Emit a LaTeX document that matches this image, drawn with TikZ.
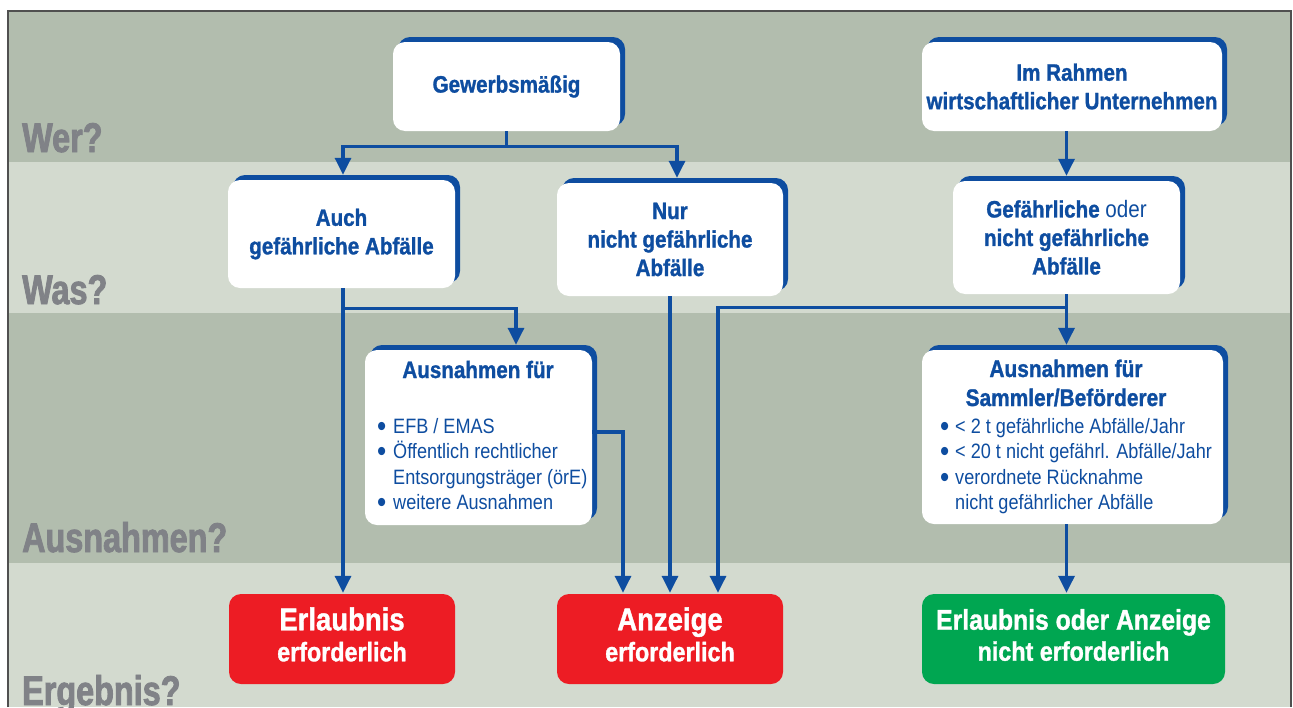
\documentclass[tikz,border=0pt]{standalone}
\usepackage{fontspec}
\setmainfont{Liberation Sans}[FakeStretch=0.87, BoldFeatures={FakeBold=1.2}]
\newfontfamily\grayfont{Liberation Sans}[FakeStretch=0.78, BoldFeatures={FakeBold=2}]
\usetikzlibrary{arrows.meta,shadows,calc}
\definecolor{bandA}{RGB}{178,189,174}
\definecolor{bandB}{RGB}{211,218,207}
\definecolor{lblue}{RGB}{14,77,160}
\definecolor{rred}{RGB}{237,28,36}
\definecolor{ggreen}{RGB}{0,166,81}
\definecolor{lgray}{RGB}{128,130,135}
\definecolor{framegray}{RGB}{80,80,80}
\newlength\bulw
\setlength\bulw{16pt}
\newcommand\bul{\makebox[\bulw][l]{\smash{\raisebox{-3.2pt}{\scalebox{1.45}{•}}}}}
\newcommand\ind{\hspace*{\bulw}}
\newcommand\titlef{\fontsize{23.7}{28.5}\selectfont\bfseries}
\tikzset{
  whitebox/.style={fill=white, rounded corners=12pt, inner sep=0pt,
    general shadow={fill=lblue, shadow xshift=5pt, shadow yshift=5pt},
    text=lblue, font=\titlef, align=center},
  resbox/.style={rounded corners=12pt, inner sep=0pt, text=white, align=center,
    font=\fontsize{28.4}{31}\selectfont\bfseries},
  titletext/.style={inner sep=0pt, text=lblue, font=\titlef},
  bullettext/.style={inner sep=0pt, text=lblue, font=\fontsize{20.8}{25.5}\selectfont},
  graylbl/.style={anchor=base west, inner sep=0pt, text=lgray,
    font=\grayfont\bfseries\fontsize{41.5}{45}\selectfont},
  conn/.style={draw=lblue, line width=3.3pt},
  arr/.style={conn, -{Triangle[width=16pt,length=17pt]}, shorten >=5pt},
  arrres/.style={conn, -{Triangle[width=16pt,length=17pt]}, shorten >=1pt},
}
\begin{document}
\begin{tikzpicture}[x=1pt,y=-1pt]
\useasboundingbox (0,0) rectangle (1293,707);
% bands
\fill[bandA] (8,11) rectangle (1291,162);
\fill[bandB] (8,162) rectangle (1291,313);
\fill[bandA] (8,313) rectangle (1291,563);
\fill[bandB] (8,563) rectangle (1291,707);
\draw[framegray, line width=1.5pt] (8,707) -- (8,11) -- (1291,11) -- (1291,707);
% row labels
\node[graylbl] (lwer) at (22,152) {Wer?};
\node[graylbl] (lwas) at (22,304) {Was?};
\node[graylbl] (laus) at (22,552) {Ausnahmen?};
\node[graylbl] (lerg) at (22,705) {Ergebnis?};
% boxes
\node[whitebox, minimum width=227pt, minimum height=89pt] (gew) at (506.5,86.5) {\raisebox{-2pt}{Gewerbsmäßig}};
\node[whitebox, minimum width=300pt, minimum height=89pt] (rahmen) at (1072,86.5) {Im Rahmen\\wirtschaftlicher Unternehmen};
\node[whitebox, minimum width=227pt, minimum height=108pt] (auch) at (341.5,234) {Auch\\gefährliche Abfälle};
\node[whitebox, minimum width=226pt, minimum height=113pt] (nur) at (670,239.5) {Nur\\nicht gefährliche\\Abfälle};
\node[whitebox, minimum width=227pt, minimum height=113pt] (gef) at (1066.5,237.5) {Gefährliche {\mdseries oder}\\nicht gefährliche\\Abfälle};
\node[whitebox, minimum width=227pt, minimum height=175pt] (ausl) at (478.5,437.5) {};
\node[whitebox, minimum width=301pt, minimum height=174pt] (ausr) at (1072.5,437) {};
\node[titletext, anchor=base] (auslt) at (478,378) {Ausnahmen für};
\node[bullettext, anchor=base west] (auslb) at (377,433) {\begin{tabular}[t]{@{}l@{}}\bul EFB / EMAS\\ \bul Öffentlich rechtlicher\\ \ind Entsorgungsträger (örE)\\ \bul weitere Ausnahmen\end{tabular}};
\node[titletext, anchor=base, font=\fontsize{24}{29}\selectfont\bfseries] (ausrt) at (1066,377) {\begin{tabular}[t]{@{}c@{}}Ausnahmen für\\ Sammler/Beförderer\end{tabular}};
\node[bullettext, anchor=base west] (ausrb) at (940,433) {\setlength\bulw{15pt}\begin{tabular}[t]{@{}l@{}}\bul < 2 t gefährliche Abfälle/Jahr\\ \bul < 20 t nicht gefährl. Abfälle/Jahr\\ \bul verordnete Rücknahme\\ \ind nicht gefährlicher Abfälle\end{tabular}};
% results
\node[resbox, fill=rred, minimum width=226pt, minimum height=90pt] (erl) at (342,639) {\raisebox{-2pt}{\begin{tabular}{@{}c@{}}{\fontsize{31.6}{31}\selectfont Erlaubnis}\\ {\fontsize{26.8}{31}\selectfont erforderlich}\end{tabular}}};
\node[resbox, fill=rred, minimum width=226pt, minimum height=90pt] (anz) at (670,639) {\raisebox{-2pt}{\begin{tabular}{@{}c@{}}{\fontsize{31.6}{31}\selectfont Anzeige}\\ {\fontsize{26.8}{31}\selectfont erforderlich}\end{tabular}}};
\node[resbox, fill=ggreen, minimum width=303pt, minimum height=90pt] (erlanz) at (1073.5,639) {\begin{tabular}{@{}c@{}}Erlaubnis oder Anzeige\\ {\fontsize{26.8}{31}\selectfont nicht erforderlich}\end{tabular}};
% connectors
\coordinate (gj) at ($(gew.south)+(0,15.5)$);
\draw[conn] (gew.south) -- (gj);
\draw[arr] (gj) -| ($(auch.north)+(1.5,0)$);
\draw[arr] (gj) -| ($(nur.north)+(7,0)$);
\draw[arr] (rahmen.south -| gef.north) -- (gef.north);
\coordinate (aj) at ($(auch.south)+(1.5,20)$);
\draw[arrres] ($(auch.south)+(1.5,0)$) -- (aj |- erl.north);
\draw[arr] (aj) -| ($(ausl.north)+(37.5,0)$);
\draw[arrres] ($(ausl.east)+(0,-5.5)$) -| ($(anz.north)+(-47,0)$);
\draw[arrres] (nur.south) -- (anz.north);
\coordinate (fj) at ($(gef.south)+(0,13)$);
\draw[arr] (gef.south) -- (gef.south |- ausr.north);
\draw[arrres] (fj) -| ($(anz.north)+(48,0)$);
\draw[arrres] (gef.south |- ausr.south) -- (gef.south |- erlanz.north);
\end{tikzpicture}
\end{document}
